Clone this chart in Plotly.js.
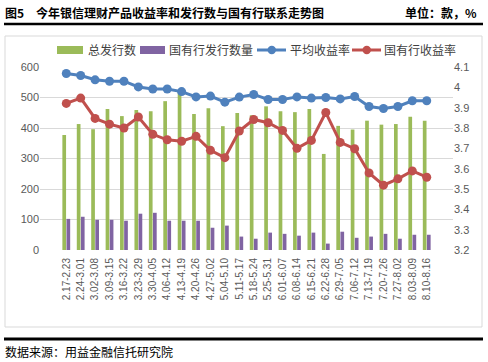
<!DOCTYPE html>
<html>
<head>
<meta charset="utf-8">
<script src="https://cdn.plot.ly/plotly-3.0.1.min.js"></script>
<style>
html,body{margin:0;padding:0;background:#fff;}
#chart{width:488px;height:362px;}
</style>
</head>
<body>
<div id="chart"></div>
<script>
// ---- data ----
const periods = ["2.17-2.23","2.24-3.01","3.02-3.08","3.09-3.15","3.16-3.22","3.23-3.29","3.30-4.05","4.06-4.12","4.13-4.19","4.20-4.26","4.27-5.02","5.04-5.10","5.11-5.17","5.18-5.24","5.25-5.31","6.01-6.07","6.08-6.14","6.15-6.21","6.22-6.28","6.29-7.05","7.06-7.12","7.13-7.19","7.20-7.26","7.27-8.02","8.03-8.09","8.10-8.16"];
const totalIssued = [377,413,396,462,439,459,455,488,523,446,465,406,449,442,471,455,452,462,315,407,395,424,411,413,437,424];
const stateIssued = [102,109,99,99,96,119,122,96,96,96,73,80,44,37,57,53,47,57,21,60,40,44,53,37,50,50];
const avgYield = [4.068,4.058,4.037,4.030,4.030,4.002,3.992,3.992,3.979,3.953,3.957,3.927,3.952,3.965,3.940,3.940,3.953,3.947,3.950,3.943,3.955,3.906,3.896,3.906,3.934,3.934];
const stateYield = [3.921,3.947,3.847,3.819,3.800,3.854,3.769,3.742,3.735,3.759,3.690,3.654,3.785,3.842,3.826,3.788,3.700,3.739,3.876,3.729,3.698,3.579,3.519,3.550,3.589,3.558];
const seriesNames = ["总发行数","国有行发行数量","平均收益率","国有行收益率"];
const leftTicks = [0,100,200,300,400,500,600];
const rightTicks = [3.2,3.3,3.4,3.5,3.6,3.7,3.8,3.9,4.0,4.1];
const titleText = "图5　今年银信理财产品收益率和发行数与国有行联系走势图";
const unitText = "单位：款，%";
const sourceText = "数据来源：用益金融信托研究院";

// ---- style ----
const W = 488, H = 362;
const M = {l:40, r:35, t:67, b:112};
const px = x => (x - M.l) / (W - M.l - M.r);
const py = y => (H - M.b - y) / (H - M.t - M.b);
const GREEN = "#9BBB59", PURPLE = "#8064A2", BLUE = "#4F81BD", RED = "#C0504D";
const CJK = "'Noto Sans CJK SC', sans-serif";
const tickFont = {family:"'Liberation Sans', Arial, sans-serif", size:11, color:"#595959"};

const traces = [
  {type:"bar", x:periods, y:totalIssued, name:seriesNames[0], marker:{color:GREEN}, yaxis:"y"},
  {type:"bar", x:periods, y:stateIssued, name:seriesNames[1], marker:{color:PURPLE}, yaxis:"y"},
  {type:"scatter", mode:"lines+markers", x:periods, y:avgYield, name:seriesNames[2], yaxis:"y2",
   line:{color:BLUE, width:3}, marker:{color:BLUE, size:9}},
  {type:"scatter", mode:"lines+markers", x:periods, y:stateYield, name:seriesNames[3], yaxis:"y2",
   line:{color:RED, width:3}, marker:{color:RED, size:9}}
];

// manual legend (positions are layout, not data)
const legY = 50;
const shapes = [
  {type:"rect", xref:"paper", yref:"paper", x0:px(5), x1:px(482), y0:py(327), y1:py(36), line:{color:"#d9d9d9", width:1}, layer:"below"},
  {type:"line", xref:"paper", yref:"paper", x0:px(4), x1:px(483), y0:py(24), y1:py(24), line:{color:"#000", width:2.5}},
  {type:"line", xref:"paper", yref:"paper", x0:px(4), x1:px(483), y0:py(339), y1:py(339), line:{color:"#000", width:3}},
  {type:"rect", xref:"paper", yref:"paper", x0:px(57), x1:px(83), y0:py(54), y1:py(46), fillcolor:GREEN, line:{width:0}},
  {type:"rect", xref:"paper", yref:"paper", x0:px(140), x1:px(165), y0:py(54), y1:py(46), fillcolor:PURPLE, line:{width:0}},
  {type:"line", xref:"paper", yref:"paper", x0:px(257), x1:px(286), y0:py(legY), y1:py(legY), line:{color:BLUE, width:3}},
  {type:"circle", xref:"paper", yref:"paper", x0:px(267.5), x1:px(276), y0:py(54.2), y1:py(45.8), fillcolor:BLUE, line:{color:BLUE, width:0}},
  {type:"line", xref:"paper", yref:"paper", x0:px(352), x1:px(381), y0:py(legY), y1:py(legY), line:{color:RED, width:3}},
  {type:"circle", xref:"paper", yref:"paper", x0:px(362.5), x1:px(371), y0:py(54.2), y1:py(45.8), fillcolor:RED, line:{color:RED, width:0}}
];

const legFont = {family:CJK, size:12, color:"#404040"};
const annotations = [
  {text:"<b>"+titleText+"</b>", xref:"paper", yref:"paper", x:px(3), y:py(12), xanchor:"left", yanchor:"middle", showarrow:false, font:{family:CJK, size:12, color:"#000"}},
  {text:"<b>"+unitText+"</b>", xref:"paper", yref:"paper", x:px(479), y:py(12), xanchor:"right", yanchor:"middle", showarrow:false, font:{family:CJK, size:12, color:"#000"}},
  {text:sourceText, xref:"paper", yref:"paper", x:px(3), y:py(351), xanchor:"left", yanchor:"middle", showarrow:false, font:{family:CJK, size:12, color:"#000"}},
  {text:seriesNames[0], xref:"paper", yref:"paper", x:px(86), y:py(legY), xanchor:"left", yanchor:"middle", showarrow:false, font:legFont},
  {text:seriesNames[1], xref:"paper", yref:"paper", x:px(167), y:py(legY), xanchor:"left", yanchor:"middle", showarrow:false, font:legFont},
  {text:seriesNames[2], xref:"paper", yref:"paper", x:px(288), y:py(legY), xanchor:"left", yanchor:"middle", showarrow:false, font:legFont},
  {text:seriesNames[3], xref:"paper", yref:"paper", x:px(382), y:py(legY), xanchor:"left", yanchor:"middle", showarrow:false, font:legFont}
];

const layout = {
  width:W, height:H,
  margin:M,
  paper_bgcolor:"#fff", plot_bgcolor:"#fff",
  showlegend:false,
  barmode:"group", bargap:0.43, bargroupgap:0.1,
  xaxis:{type:"category", tickangle:-90, tickfont:{family:"'Liberation Sans', Arial, sans-serif", size:10, color:"#595959"},
         showgrid:false, showline:false, zeroline:false, ticks:"", automargin:false, ticklabelstandoff:5},
  yaxis:{range:[0,600], tickvals:leftTicks, showgrid:true, gridcolor:"#d9d9d9", gridwidth:1,
         zeroline:false, showline:false, ticks:"", tickfont:tickFont, automargin:false},
  yaxis2:{range:[3.2,4.1], tickvals:rightTicks, ticktext:rightTicks.map(v=>String(+v.toFixed(1))), overlaying:"y", side:"right",
          showgrid:false, zeroline:false, showline:false, ticks:"", tickfont:tickFont, automargin:false},
  shapes:shapes,
  annotations:annotations,
  font:{family:CJK}
};

Plotly.newPlot("chart", traces, layout, {staticPlot:true, displayModeBar:false});
</script>
</body>
</html>
